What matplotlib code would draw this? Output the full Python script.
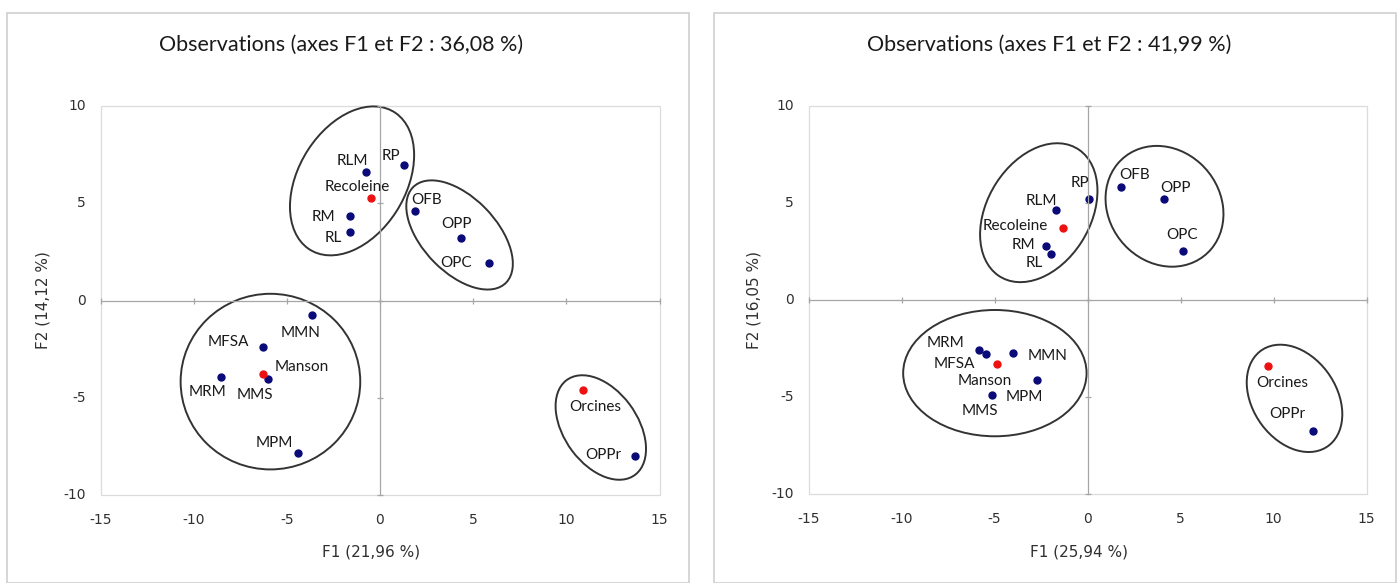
import numpy as np
import matplotlib
matplotlib.use("Agg")
import matplotlib.pyplot as plt
import matplotlib.transforms as mtransforms
from matplotlib.patches import Ellipse, Rectangle
from matplotlib import font_manager as fm

# ---- data ----
names = ["RLM", "RP", "Recoleine", "RM", "RL", "OFB", "OPP", "OPC",
         "MMN", "MFSA", "Manson", "MRM", "MMS", "MPM", "Orcines", "OPPr"]
is_group = [False, False, True, False, False, False, False, False,
            False, False, True, False, False, False, True, False]

# left chart: axes F1 et F2 : 36,08 %
f1_left = [-0.75, 1.31, -0.48, -1.59, -1.59, 1.86, 4.37, 5.87,
           -3.64, -6.27, -6.27, -8.53, -6.00, -4.41, 10.87, 13.68]
f2_left = [6.63, 6.96, 5.28, 4.32, 3.51, 4.58, 3.22, 1.92,
           -0.75, -2.37, -3.80, -3.91, -4.06, -7.82, -4.58, -7.98]

# right chart: axes F1 et F2 : 41,99 %
f1_right = [-1.68, 0.10, -1.30, -2.23, -1.98, 1.79, 4.11, 5.12,
            -4.01, -5.48, -4.89, -5.82, -5.12, -2.70, 9.73, 12.15]
f2_right = [4.66, 5.19, 3.69, 2.78, 2.35, 5.81, 5.19, 2.53,
            -2.74, -2.78, -3.31, -2.59, -4.90, -4.11, -3.39, -6.74]

titles = ["Observations (axes F1 et F2 : 36,08 %)",
          "Observations (axes F1 et F2 : 41,99 %)"]
xlabels = ["F1 (21,96 %)", "F1 (25,94 %)"]
ylabels = ["F2 (14,12 %)", "F2 (16,05 %)"]
x_ticks = [-15, -10, -5, 0, 5, 10, 15]
y_ticks = [-10, -5, 0, 5, 10]

# label offsets in pixels (dx right, dy down) relative to each point
offs_left = [(-14, -11), (-13, -9), (-14, -11), (-27, 1), (-17, 6), (12, -11), (-5, -14), (-33, 0),
             (-12, 18), (-35, -5), (39, -7), (-14, 15), (-13, 16), (-24, -10), (13, 17), (-32, -1)]
offs_right = [(-15, -9), (-9, -16), (-48, -2), (-23, -1), (-16, 9), (14, -12), (12, -11), (-1, -16),
              (35, 3), (-31, 10), (-12, 17), (-34, -7), (-12, 16), (-13, 17), (14, 17), (-26, -17)]

# hand drawn group ellipses: (x, y, width, height, angle) in data units
ell_left = [(-1.5, 6.15, 8.4, 5.7, 56), (4.27, 3.37, 7.0, 3.9, -44),
            (-5.88, -4.17, 9.64, 9.03, 0), (11.85, -6.53, 6.1, 3.9, -52)]
ell_right = [(-2.62, 4.50, 7.8, 5.5, 56), (4.14, 4.83, 6.68, 5.86, -41),
             (-4.98, -3.77, 9.86, 6.51, 0), (11.13, -5.07, 6.1, 4.45, -52)]

W, H = 1398, 583
fig = plt.figure(figsize=(W / 100, H / 100), dpi=100)
fig.patch.set_facecolor("white")

installed = {f.name for f in fm.fontManager.ttflist}
narrow = [f for f in ["Liberation Sans Narrow", "DejaVu Sans"] if f in installed]
title_font = ["Lato", "DejaVu Sans"]
navy = "#0a0a78"
red = "#ee1111"
gray = "#a6a6a6"

panels = [
    dict(frame=(7, 13, 689), ax=(100.5, 106, 659.5, 495), f1=f1_left, f2=f2_left,
         offs=offs_left, ells=ell_left, title_x=341, xlab_x=371, ylab_x=43),
    dict(frame=(714, 13, 1396), ax=(808.5, 106, 1366.5, 494), f1=f1_right, f2=f2_right,
         offs=offs_right, ells=ell_right, title_x=1049, xlab_x=1079, ylab_x=754),
]

for k, p in enumerate(panels):
    fx0, fy0, fx1 = p["frame"]
    fig.patches.append(Rectangle((fx0 / W, 0), (fx1 - fx0) / W, 1 - fy0 / H,
                                 transform=fig.transFigure, fill=False,
                                 ec="#d0d0d0", lw=1.2))

    x0, y0, x1, y1 = p["ax"]
    ax = fig.add_axes([x0 / W, 1 - y1 / H, (x1 - x0) / W, (y1 - y0) / H])
    ax.set_xlim(-15, 15)
    ax.set_ylim(-10, 10)

    # axes through the origin with crossing tick marks
    for s in ["top", "right"]:
        ax.spines[s].set_visible(False)
    for s in ["left", "bottom"]:
        ax.spines[s].set_position(("data", 0))
        ax.spines[s].set_color(gray)
        ax.spines[s].set_linewidth(0.9)
    ax.set_xticks(x_ticks)
    ax.set_yticks(y_ticks)
    ax.tick_params(direction="inout", length=5, color=gray, width=0.9,
                   labelbottom=False, labelleft=False)
    ax.add_patch(Rectangle((0, 0), 1, 1, transform=ax.transAxes, fill=False,
                           ec="#dcdcdc", lw=0.9, clip_on=False))

    # tick labels at the plot edges
    bx = mtransforms.blended_transform_factory(ax.transData, ax.transAxes)
    by = mtransforms.blended_transform_factory(ax.transAxes, ax.transData)
    for v in x_ticks:
        ax.text(v, -0.064, str(v), transform=bx, ha="center", va="center",
                fontsize=10, family=narrow, color="#303030")
    for v in y_ticks:
        ax.text(-0.026, v, str(v), transform=by, ha="right", va="center",
                fontsize=10, family=narrow, color="#303030")

    for (cx, cy, w, h, ang) in p["ells"]:
        ax.add_patch(Ellipse((cx, cy), w, h, angle=ang, fill=False,
                             ec="#333333", lw=1.4, clip_on=False))

    f1 = np.array(p["f1"])
    f2 = np.array(p["f2"])
    grp = np.array(is_group)
    ax.plot(f1[~grp], f2[~grp], "o", color=navy, ms=5, ls="none")
    ax.plot(f1[grp], f2[grp], "o", color=red, ms=5, ls="none")

    for name, xv, yv, (dx, dy) in zip(names, f1, f2, p["offs"]):
        ax.annotate(name, (xv, yv), xytext=(dx * 0.72, -dy * 0.72),
                    textcoords="offset points", ha="center", va="center",
                    fontsize=11, family=title_font, color="#1a1a1a")

    fig.text(p["title_x"] / W, 1 - 45 / H, titles[k], ha="center", va="center",
             fontsize=15.5, family=title_font, color="#1a1a1a")
    fig.text(p["xlab_x"] / W, 1 - 552 / H, xlabels[k], ha="center", va="center",
             fontsize=11, family=narrow, color="#303030")
    fig.text(p["ylab_x"] / W, 1 - 300 / H, ylabels[k], ha="center", va="center",
             rotation=90, fontsize=11, family=narrow, color="#303030")

fig.savefig("out.png", dpi=100)
